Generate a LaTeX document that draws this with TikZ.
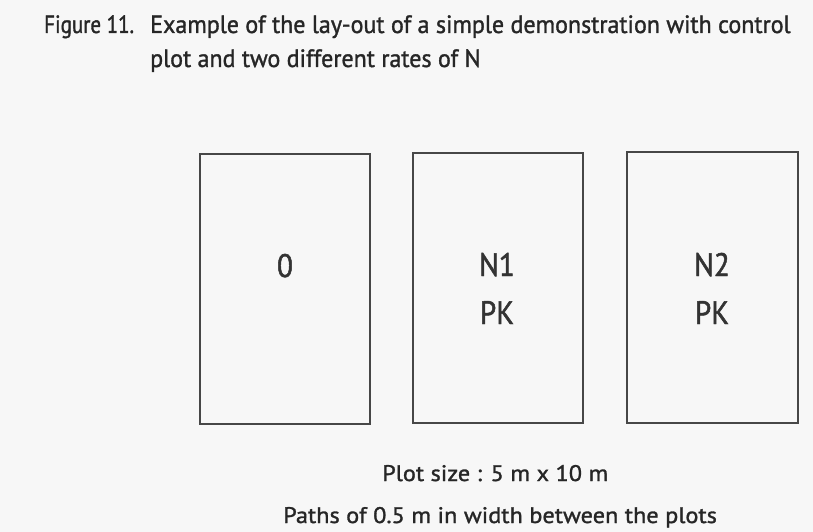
\documentclass[tikz,border=0pt]{standalone}
\usepackage{fontspec}
\setmainfont{PT Sans}[FakeStretch=0.96,FakeBold=1.3]
\newfontfamily\figfont{PT Sans}[FakeStretch=0.84,FakeBold=1.3]
\newfontfamily\lblfont{PT Sans}[FakeStretch=0.9,FakeBold=1.5]
\newfontfamily\capfont{PT Sans}[FakeStretch=1.08,FakeBold=1.3]
\begin{document}
\begin{tikzpicture}[x=1pt,y=-1pt,
  plot/.style={draw=black!72,line width=2.6pt},
  lbl/.style={font=\lblfont\fontsize{32.5}{40}\selectfont,text=black!80,anchor=base,inner sep=0pt},
  ttl/.style={font=\fontsize{25}{31}\selectfont,text=black!85,anchor=base west,inner sep=0pt},
  captext/.style={font=\capfont\fontsize{22.5}{28}\selectfont,text=black!85,anchor=base west,inner sep=0pt}]
\fill[black!3] (0,0) rectangle (813,532);
\useasboundingbox (0,0) rectangle (813,532);
\node[ttl,font=\figfont\fontsize{25}{31}\selectfont] (fig) at (44,33) {Figure 11.};
\node[ttl] (t1) at (150,33) {Example of the lay-out of a simple demonstration with control};
\node[ttl] (t2) at (150,67) {plot and two different rates of N};
\draw[plot] (200,154) rectangle (370,424);
\draw[plot] (413,153) rectangle (583,423);
\draw[plot] (627,152) rectangle (798,423);
\node[lbl] (p0) at (285,277) {0};
\node[lbl] (p1a) at (497,276) {N1};
\node[lbl] (p1b) at (497,324) {PK};
\node[lbl] (p2a) at (712,276) {N2};
\node[lbl] (p2b) at (712,324) {PK};
\node[captext] (c1) at (382,481) {Plot size : 5 m x 10 m};
\node[captext] (c2) at (283,523) {Paths of 0.5 m in width between the plots};
\end{tikzpicture}
\end{document}
